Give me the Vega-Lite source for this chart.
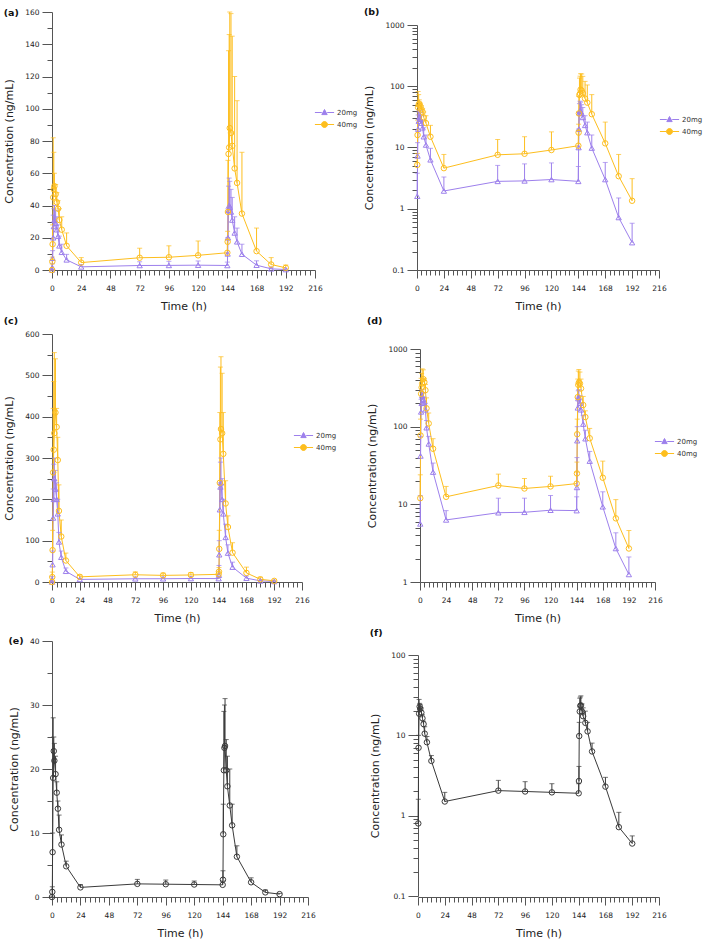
{
  "$schema": "https://vega.github.io/schema/vega-lite/v6.json",
  "padding": {"left": 3, "top": 6, "right": 0, "bottom": 0},
  "datasets": {
    "A": [
      {"g":"20mg","t":0,"c":0,"hi":0},{"g":"20mg","t":0.25,"c":1.6,"hi":3.8},{"g":"20mg","t":0.5,"c":7.3,"hi":12},{"g":"20mg","t":1,"c":20,"hi":34},{"g":"20mg","t":1.5,"c":27,"hi":38},{"g":"20mg","t":2,"c":31,"hi":40},{"g":"20mg","t":3,"c":29,"hi":37},{"g":"20mg","t":4,"c":25,"hi":33},{"g":"20mg","t":5,"c":21,"hi":28},{"g":"20mg","t":6,"c":15,"hi":21},{"g":"20mg","t":8,"c":11,"hi":16},{"g":"20mg","t":12,"c":6.3,"hi":9.7},{"g":"20mg","t":24,"c":1.95,"hi":3.3},{"g":"20mg","t":72,"c":2.8,"hi":5.1},{"g":"20mg","t":96,"c":2.85,"hi":5.4},{"g":"20mg","t":120,"c":3.0,"hi":5.6},{"g":"20mg","t":144,"c":2.8,"hi":4.9},{"g":"20mg","t":144.25,"c":10,"hi":20},{"g":"20mg","t":144.5,"c":20,"hi":38},{"g":"20mg","t":145,"c":37,"hi":52},{"g":"20mg","t":145.5,"c":40,"hi":57},{"g":"20mg","t":146,"c":39,"hi":55},{"g":"20mg","t":147,"c":36,"hi":50},{"g":"20mg","t":148,"c":31,"hi":45},{"g":"20mg","t":150,"c":23,"hi":33},{"g":"20mg","t":152,"c":17.5,"hi":26},{"g":"20mg","t":156,"c":9.8,"hi":16},{"g":"20mg","t":168,"c":3.0,"hi":5.7},{"g":"20mg","t":180,"c":0.72,"hi":1.5},{"g":"20mg","t":192,"c":0.28,"hi":0.58},
      {"g":"40mg","t":0,"c":0,"hi":0},{"g":"40mg","t":0.25,"c":5.2,"hi":8},{"g":"40mg","t":0.5,"c":16,"hi":28},{"g":"40mg","t":1,"c":45,"hi":82},{"g":"40mg","t":1.5,"c":50,"hi":73},{"g":"40mg","t":2,"c":52,"hi":60},{"g":"40mg","t":3,"c":47,"hi":53},{"g":"40mg","t":4,"c":42,"hi":48},{"g":"40mg","t":5,"c":38,"hi":43},{"g":"40mg","t":6,"c":31,"hi":38},{"g":"40mg","t":8,"c":25,"hi":33},{"g":"40mg","t":12,"c":15,"hi":23},{"g":"40mg","t":24,"c":4.6,"hi":7.7},{"g":"40mg","t":72,"c":7.6,"hi":13.5},{"g":"40mg","t":96,"c":7.9,"hi":15},{"g":"40mg","t":120,"c":9.1,"hi":18},{"g":"40mg","t":144,"c":10.7,"hi":19},{"g":"40mg","t":144.25,"c":17.5,"hi":24},{"g":"40mg","t":144.5,"c":36,"hi":68},{"g":"40mg","t":145,"c":72,"hi":136},{"g":"40mg","t":145.5,"c":76,"hi":146},{"g":"40mg","t":146,"c":88,"hi":160},{"g":"40mg","t":147,"c":85,"hi":159},{"g":"40mg","t":148,"c":77,"hi":145},{"g":"40mg","t":150,"c":63,"hi":120},{"g":"40mg","t":152,"c":54,"hi":105},{"g":"40mg","t":156,"c":35,"hi":73},{"g":"40mg","t":168,"c":11.7,"hi":26},{"g":"40mg","t":180,"c":3.4,"hi":7.7},{"g":"40mg","t":192,"c":1.35,"hi":3.1}
    ],
    "C": [
      {"g":"20mg","t":0,"c":0,"hi":0},{"g":"20mg","t":0.25,"c":5.6,"hi":13},{"g":"20mg","t":0.5,"c":42,"hi":75},{"g":"20mg","t":1,"c":155,"hi":225},{"g":"20mg","t":1.5,"c":200,"hi":285},{"g":"20mg","t":2,"c":250,"hi":300},{"g":"20mg","t":3,"c":225,"hi":270},{"g":"20mg","t":4,"c":200,"hi":240},{"g":"20mg","t":5,"c":165,"hi":200},{"g":"20mg","t":6,"c":97,"hi":120},{"g":"20mg","t":8,"c":60,"hi":75},{"g":"20mg","t":12,"c":26,"hi":34},{"g":"20mg","t":24,"c":6.3,"hi":8.3},{"g":"20mg","t":72,"c":7.8,"hi":12},{"g":"20mg","t":96,"c":7.9,"hi":12},{"g":"20mg","t":120,"c":8.4,"hi":13},{"g":"20mg","t":144,"c":8.3,"hi":12.5},{"g":"20mg","t":144.25,"c":16.5,"hi":40},{"g":"20mg","t":144.5,"c":66,"hi":100},{"g":"20mg","t":145,"c":175,"hi":240},{"g":"20mg","t":145.5,"c":230,"hi":290},{"g":"20mg","t":146,"c":240,"hi":300},{"g":"20mg","t":147,"c":200,"hi":250},{"g":"20mg","t":148,"c":165,"hi":200},{"g":"20mg","t":150,"c":108,"hi":140},{"g":"20mg","t":152,"c":70,"hi":90},{"g":"20mg","t":156,"c":36,"hi":48},{"g":"20mg","t":168,"c":9.3,"hi":14.5},{"g":"20mg","t":180,"c":2.7,"hi":4.3},{"g":"20mg","t":192,"c":1.25,"hi":2.1},
      {"g":"40mg","t":0,"c":0,"hi":0},{"g":"40mg","t":0.25,"c":12,"hi":24},{"g":"40mg","t":0.5,"c":77,"hi":125},{"g":"40mg","t":1,"c":265,"hi":420},{"g":"40mg","t":1.5,"c":320,"hi":485},{"g":"40mg","t":2,"c":360,"hi":555},{"g":"40mg","t":3,"c":410,"hi":540},{"g":"40mg","t":4,"c":375,"hi":420},{"g":"40mg","t":5,"c":295,"hi":350},{"g":"40mg","t":6,"c":172,"hi":235},{"g":"40mg","t":8,"c":110,"hi":150},{"g":"40mg","t":12,"c":52,"hi":70},{"g":"40mg","t":24,"c":12.5,"hi":17},{"g":"40mg","t":72,"c":17.5,"hi":24.5},{"g":"40mg","t":96,"c":16,"hi":21.5},{"g":"40mg","t":120,"c":17,"hi":23},{"g":"40mg","t":144,"c":18.5,"hi":26},{"g":"40mg","t":144.25,"c":25,"hi":35},{"g":"40mg","t":144.5,"c":80,"hi":125},{"g":"40mg","t":145,"c":240,"hi":410},{"g":"40mg","t":145.5,"c":345,"hi":520},{"g":"40mg","t":146,"c":370,"hi":545},{"g":"40mg","t":147,"c":360,"hi":505},{"g":"40mg","t":148,"c":310,"hi":410},{"g":"40mg","t":150,"c":190,"hi":245},{"g":"40mg","t":152,"c":133,"hi":160},{"g":"40mg","t":156,"c":71,"hi":95},{"g":"40mg","t":168,"c":22,"hi":36},{"g":"40mg","t":180,"c":6.6,"hi":11.5},{"g":"40mg","t":192,"c":2.7,"hi":4.6}
    ],
    "E": [
      {"t":0,"c":0,"hi":0},{"t":0.25,"c":0.8,"hi":1.6},{"t":0.5,"c":7.0,"hi":10},{"t":1,"c":18.6,"hi":28},{"t":1.5,"c":22.8,"hi":25},{"t":2,"c":21.3,"hi":24},{"t":3,"c":19.2,"hi":22},{"t":4,"c":16.3,"hi":18},{"t":5,"c":13.8,"hi":15},{"t":6,"c":10.5,"hi":12.8},{"t":8,"c":8.2,"hi":9.7},{"t":12,"c":4.8,"hi":5.6},{"t":24,"c":1.5,"hi":1.95},{"t":72,"c":2.05,"hi":2.75},{"t":96,"c":2.0,"hi":2.65},{"t":120,"c":1.95,"hi":2.5},{"t":144,"c":1.9,"hi":2.5},{"t":144.25,"c":2.7,"hi":4.1},{"t":144.5,"c":9.8,"hi":14.5},{"t":145,"c":19.8,"hi":29},{"t":145.5,"c":23.3,"hi":30},{"t":146,"c":23.6,"hi":31},{"t":147,"c":19.8,"hi":24.6},{"t":148,"c":17.3,"hi":22},{"t":150,"c":14.3,"hi":20},{"t":152,"c":11.2,"hi":14.5},{"t":156,"c":6.3,"hi":8},{"t":168,"c":2.3,"hi":3.0},{"t":180,"c":0.72,"hi":1.1},{"t":192,"c":0.45,"hi":0.56}
    ]
  },
  "vconcat": [
    {
      "hconcat": [
        {
          "width": 263, "height": 258,
          "title": {"text": "(a)", "offset": -9},
          "data": {"name": "A"},
          "encoding": {
            "x": {"field": "t", "type": "quantitative", "title": "Time (h)", "scale": {"domain": [0, 216], "nice": false, "zero": false},
              "axis": {"values": [0,4,8,12,16,20,24,28,32,36,40,44,48,52,56,60,64,68,72,76,80,84,88,92,96,100,104,108,112,116,120,124,128,132,136,140,144,148,152,156,160,164,168,172,176,180,184,188,192,196,200,204,208,212,216], "labelExpr": "datum.value % 24 === 0 ? datum.label : ''", "tickSize": {"condition": {"test": "datum.value % 24 === 0", "value": 8}, "value": 5}}},
            "y": {"field": "c", "type": "quantitative", "title": "Concentration (ng/mL)", "scale": {"domain": [0, 160], "nice": false},
              "axis": {"values": [0,10,20,30,40,50,60,70,80,90,100,110,120,130,140,150,160], "labelExpr": "datum.value % 20 === 0 ? datum.label : ''", "tickSize": {"condition": {"test": "datum.value % 20 === 0", "value": 10}, "value": 5}}}
          },
          "layer": [
            {"mark": {"type": "line", "strokeWidth": 1}, "encoding": {"color": {"field": "g", "type": "nominal", "scale": {"domain": ["20mg", "40mg"], "range": ["#9D80EC", "#FDBE1E"]},
              "legend": {"title": null, "orient": "none", "legendX": 266, "legendY": 94, "symbolSize": 144, "labelOffset": 6, "rowPadding": 1, "symbolStrokeWidth": 1, "encoding": {"symbols": {"shape": {"value": {"expr": "datum.value === '20mg' ? 'M-1.6,0L-0.45,0M0.45,0L1.6,0M0,-0.5L0.45,0.35L-0.45,0.35Z' : 'M-1.6,0L-0.5,0M0.5,0L1.6,0M0.5,0A0.5,0.5 0 1 1 -0.5,0A0.5,0.5 0 1 1 0.5,0Z'"}}, "fill": {"value": "transparent"}, "strokeWidth": {"value": 1}, "opacity": {"value": 1}}}}}}},
            {"mark": {"type": "rule", "strokeWidth": 1}, "encoding": {"y2": {"field": "hi"}, "color": {"field": "g", "type": "nominal", "legend": null}}},
            {"mark": {"type": "tick", "orient": "horizontal", "size": 5, "thickness": 1}, "encoding": {"y": {"field": "hi", "type": "quantitative", "title": "Concentration (ng/mL)", "scale": {"domain": [0, 160], "nice": false}}, "color": {"field": "g", "type": "nominal", "legend": null}}},
            {"transform": [{"filter": "datum.g === '20mg'"}], "mark": {"type": "point", "shape": "triangle-up", "filled": false, "size": 28, "strokeWidth": 1, "opacity": 1}, "encoding": {"color": {"field": "g", "type": "nominal", "legend": null}}},
            {"transform": [{"filter": "datum.g === '40mg'"}], "mark": {"type": "point", "shape": "circle", "filled": false, "size": 30, "strokeWidth": 1, "opacity": 1}, "encoding": {"color": {"field": "g", "type": "nominal", "legend": null}}}
          ]
        },
        {
          "width": 242, "height": 258,
          "title": {"text": "(b)", "offset": -4},
          "data": {"name": "A"},
          "transform": [{"filter": "datum.c > 0"}],
          "encoding": {
            "x": {"field": "t", "type": "quantitative", "title": "Time (h)", "scale": {"domain": [0, 216], "nice": false, "zero": false},
              "axis": {"values": [0,4,8,12,16,20,24,28,32,36,40,44,48,52,56,60,64,68,72,76,80,84,88,92,96,100,104,108,112,116,120,124,128,132,136,140,144,148,152,156,160,164,168,172,176,180,184,188,192,196,200,204,208,212,216], "labelExpr": "datum.value % 24 === 0 ? datum.label : ''", "tickSize": {"condition": {"test": "datum.value % 24 === 0", "value": 8}, "value": 5}}},
            "y": {"field": "c", "type": "quantitative", "title": "Concentration (ng/mL)", "scale": {"type": "log", "domain": [0.1, 1000], "nice": false, "range": [258, 13]},
              "axis": {"values": [0.1,0.2,0.3,0.4,0.5,0.6,0.7,0.8,0.9,1,2,3,4,5,6,7,8,9,10,20,30,40,50,60,70,80,90,100,200,300,400,500,600,700,800,900,1000], "labelExpr": "indexof([0.1,1,10,100,1000], datum.value) >= 0 ? format(datum.value, '~g') : ''", "tickSize": {"condition": {"test": "indexof([0.1,1,10,100,1000], datum.value) >= 0", "value": 10}, "value": 5}}}
          },
          "layer": [
            {"mark": {"type": "line", "strokeWidth": 1}, "encoding": {"color": {"field": "g", "type": "nominal", "scale": {"domain": ["20mg", "40mg"], "range": ["#9D80EC", "#FDBE1E"]},
              "legend": {"title": null, "orient": "none", "legendX": 246, "legendY": 101, "symbolSize": 144, "labelOffset": 6, "rowPadding": 1, "symbolStrokeWidth": 1, "encoding": {"symbols": {"shape": {"value": {"expr": "datum.value === '20mg' ? 'M-1.6,0L-0.45,0M0.45,0L1.6,0M0,-0.5L0.45,0.35L-0.45,0.35Z' : 'M-1.6,0L-0.5,0M0.5,0L1.6,0M0.5,0A0.5,0.5 0 1 1 -0.5,0A0.5,0.5 0 1 1 0.5,0Z'"}}, "fill": {"value": "transparent"}, "strokeWidth": {"value": 1}, "opacity": {"value": 1}}}}}}},
            {"mark": {"type": "rule", "strokeWidth": 1}, "encoding": {"y2": {"field": "hi"}, "color": {"field": "g", "type": "nominal", "legend": null}}},
            {"mark": {"type": "tick", "orient": "horizontal", "size": 5, "thickness": 1}, "encoding": {"y": {"field": "hi", "type": "quantitative", "title": "Concentration (ng/mL)", "scale": {"type": "log", "domain": [0.1, 1000], "nice": false, "range": [258, 13]}}, "color": {"field": "g", "type": "nominal", "legend": null}}},
            {"transform": [{"filter": "datum.g === '20mg'"}], "mark": {"type": "point", "shape": "triangle-up", "filled": false, "size": 28, "strokeWidth": 1, "opacity": 1}, "encoding": {"color": {"field": "g", "type": "nominal", "legend": null}}},
            {"transform": [{"filter": "datum.g === '40mg'"}], "mark": {"type": "point", "shape": "circle", "filled": false, "size": 30, "strokeWidth": 1, "opacity": 1}, "encoding": {"color": {"field": "g", "type": "nominal", "legend": null}}}
          ]
        }
      ],
      "spacing": 5,
      "resolve": {"scale": {"color": "independent"}, "legend": {"color": "independent"}}
    },
    {
      "hconcat": [
        {
          "width": 250, "height": 248,
          "title": {"text": "(c)", "offset": 5},
          "data": {"name": "C"},
          "encoding": {
            "x": {"field": "t", "type": "quantitative", "title": "Time (h)", "scale": {"domain": [0, 216], "nice": false, "zero": false},
              "axis": {"values": [0,4,8,12,16,20,24,28,32,36,40,44,48,52,56,60,64,68,72,76,80,84,88,92,96,100,104,108,112,116,120,124,128,132,136,140,144,148,152,156,160,164,168,172,176,180,184,188,192,196,200,204,208,212,216], "labelExpr": "datum.value % 24 === 0 ? datum.label : ''", "tickSize": {"condition": {"test": "datum.value % 24 === 0", "value": 8}, "value": 5}}},
            "y": {"field": "c", "type": "quantitative", "title": "Concentration (ng/mL)", "scale": {"domain": [0, 600], "nice": false},
              "axis": {"values": [0,50,100,150,200,250,300,350,400,450,500,550,600], "labelExpr": "datum.value % 100 === 0 ? datum.label : ''", "tickSize": {"condition": {"test": "datum.value % 100 === 0", "value": 10}, "value": 5}}}
          },
          "layer": [
            {"mark": {"type": "line", "strokeWidth": 1}, "encoding": {"color": {"field": "g", "type": "nominal", "scale": {"domain": ["20mg", "40mg"], "range": ["#9D80EC", "#FDBE1E"]},
              "legend": {"title": null, "orient": "none", "legendX": 245, "legendY": 95, "symbolSize": 144, "labelOffset": 6, "rowPadding": 1, "symbolStrokeWidth": 1, "encoding": {"symbols": {"shape": {"value": {"expr": "datum.value === '20mg' ? 'M-1.6,0L-0.45,0M0.45,0L1.6,0M0,-0.5L0.45,0.35L-0.45,0.35Z' : 'M-1.6,0L-0.5,0M0.5,0L1.6,0M0.5,0A0.5,0.5 0 1 1 -0.5,0A0.5,0.5 0 1 1 0.5,0Z'"}}, "fill": {"value": "transparent"}, "strokeWidth": {"value": 1}, "opacity": {"value": 1}}}}}}},
            {"mark": {"type": "rule", "strokeWidth": 1}, "encoding": {"y2": {"field": "hi"}, "color": {"field": "g", "type": "nominal", "legend": null}}},
            {"mark": {"type": "tick", "orient": "horizontal", "size": 5, "thickness": 1}, "encoding": {"y": {"field": "hi", "type": "quantitative", "title": "Concentration (ng/mL)", "scale": {"domain": [0, 600], "nice": false}}, "color": {"field": "g", "type": "nominal", "legend": null}}},
            {"transform": [{"filter": "datum.g === '20mg'"}], "mark": {"type": "point", "shape": "triangle-up", "filled": false, "size": 28, "strokeWidth": 1, "opacity": 1}, "encoding": {"color": {"field": "g", "type": "nominal", "legend": null}}},
            {"transform": [{"filter": "datum.g === '40mg'"}], "mark": {"type": "point", "shape": "circle", "filled": false, "size": 30, "strokeWidth": 1, "opacity": 1}, "encoding": {"color": {"field": "g", "type": "nominal", "legend": null}}}
          ]
        },
        {
          "width": 235, "height": 248,
          "title": {"text": "(d)", "offset": 9},
          "data": {"name": "C"},
          "transform": [{"filter": "datum.c > 0"}],
          "encoding": {
            "x": {"field": "t", "type": "quantitative", "title": "Time (h)", "scale": {"domain": [0, 216], "nice": false, "zero": false},
              "axis": {"values": [0,4,8,12,16,20,24,28,32,36,40,44,48,52,56,60,64,68,72,76,80,84,88,92,96,100,104,108,112,116,120,124,128,132,136,140,144,148,152,156,160,164,168,172,176,180,184,188,192,196,200,204,208,212,216], "labelExpr": "datum.value % 24 === 0 ? datum.label : ''", "tickSize": {"condition": {"test": "datum.value % 24 === 0", "value": 8}, "value": 5}}},
            "y": {"field": "c", "type": "quantitative", "title": "Concentration (ng/mL)", "scale": {"type": "log", "domain": [1, 1000], "nice": false, "range": [248, 15]},
              "axis": {"values": [1,2,3,4,5,6,7,8,9,10,20,30,40,50,60,70,80,90,100,200,300,400,500,600,700,800,900,1000], "labelExpr": "indexof([1,10,100,1000], datum.value) >= 0 ? format(datum.value, '~g') : ''", "tickSize": {"condition": {"test": "indexof([1,10,100,1000], datum.value) >= 0", "value": 10}, "value": 5}}}
          },
          "layer": [
            {"mark": {"type": "line", "strokeWidth": 1}, "encoding": {"color": {"field": "g", "type": "nominal", "scale": {"domain": ["20mg", "40mg"], "range": ["#9D80EC", "#FDBE1E"]},
              "legend": {"title": null, "orient": "none", "legendX": 238, "legendY": 101, "symbolSize": 144, "labelOffset": 6, "rowPadding": 1, "symbolStrokeWidth": 1, "encoding": {"symbols": {"shape": {"value": {"expr": "datum.value === '20mg' ? 'M-1.6,0L-0.45,0M0.45,0L1.6,0M0,-0.5L0.45,0.35L-0.45,0.35Z' : 'M-1.6,0L-0.5,0M0.5,0L1.6,0M0.5,0A0.5,0.5 0 1 1 -0.5,0A0.5,0.5 0 1 1 0.5,0Z'"}}, "fill": {"value": "transparent"}, "strokeWidth": {"value": 1}, "opacity": {"value": 1}}}}}}},
            {"mark": {"type": "rule", "strokeWidth": 1}, "encoding": {"y2": {"field": "hi"}, "color": {"field": "g", "type": "nominal", "legend": null}}},
            {"mark": {"type": "tick", "orient": "horizontal", "size": 5, "thickness": 1}, "encoding": {"y": {"field": "hi", "type": "quantitative", "title": "Concentration (ng/mL)", "scale": {"type": "log", "domain": [1, 1000], "nice": false, "range": [248, 15]}}, "color": {"field": "g", "type": "nominal", "legend": null}}},
            {"transform": [{"filter": "datum.g === '20mg'"}], "mark": {"type": "point", "shape": "triangle-up", "filled": false, "size": 28, "strokeWidth": 1, "opacity": 1}, "encoding": {"color": {"field": "g", "type": "nominal", "legend": null}}},
            {"transform": [{"filter": "datum.g === '40mg'"}], "mark": {"type": "point", "shape": "circle", "filled": false, "size": 30, "strokeWidth": 1, "opacity": 1}, "encoding": {"color": {"field": "g", "type": "nominal", "legend": null}}}
          ]
        }
      ],
      "spacing": 29,
      "resolve": {"scale": {"color": "independent"}, "legend": {"color": "independent"}}
    },
    {
      "hconcat": [
        {
          "width": 256, "height": 256,
          "title": {"text": "(e)", "offset": -8},
          "data": {"name": "E"},
          "encoding": {
            "x": {"field": "t", "type": "quantitative", "title": "Time (h)", "scale": {"domain": [0, 216], "nice": false, "zero": false},
              "axis": {"values": [0,4,8,12,16,20,24,28,32,36,40,44,48,52,56,60,64,68,72,76,80,84,88,92,96,100,104,108,112,116,120,124,128,132,136,140,144,148,152,156,160,164,168,172,176,180,184,188,192,196,200,204,208,212,216], "labelExpr": "datum.value % 24 === 0 ? datum.label : ''", "tickSize": {"condition": {"test": "datum.value % 24 === 0", "value": 8}, "value": 5}}},
            "y": {"field": "c", "type": "quantitative", "title": "Concentration (ng/mL)", "scale": {"domain": [0, 40], "nice": false},
              "axis": {"values": [0,5,10,15,20,25,30,35,40], "labelExpr": "datum.value % 10 === 0 ? datum.label : ''", "tickSize": {"condition": {"test": "datum.value % 10 === 0", "value": 10}, "value": 5}}}
          },
          "layer": [
            {"mark": {"type": "line", "strokeWidth": 1, "color": "#3a3a3a"}},
            {"mark": {"type": "rule", "strokeWidth": 1, "color": "#3a3a3a"}, "encoding": {"y2": {"field": "hi"}}},
            {"mark": {"type": "tick", "orient": "horizontal", "size": 5, "thickness": 1, "color": "#3a3a3a"}, "encoding": {"y": {"field": "hi", "type": "quantitative", "title": "Concentration (ng/mL)", "scale": {"domain": [0, 40], "nice": false}}}},
            {"mark": {"type": "point", "filled": false, "size": 30, "strokeWidth": 1, "opacity": 1, "color": "#3a3a3a", "shape": "circle"}}
          ]
        },
        {
          "width": 241, "height": 256,
          "title": {"text": "(f)", "offset": 4},
          "data": {"name": "E"},
          "transform": [{"filter": "datum.c > 0"}],
          "encoding": {
            "x": {"field": "t", "type": "quantitative", "title": "Time (h)", "scale": {"domain": [0, 216], "nice": false, "zero": false},
              "axis": {"values": [0,4,8,12,16,20,24,28,32,36,40,44,48,52,56,60,64,68,72,76,80,84,88,92,96,100,104,108,112,116,120,124,128,132,136,140,144,148,152,156,160,164,168,172,176,180,184,188,192,196,200,204,208,212,216], "labelExpr": "datum.value % 24 === 0 ? datum.label : ''", "tickSize": {"condition": {"test": "datum.value % 24 === 0", "value": 8}, "value": 5}}},
            "y": {"field": "c", "type": "quantitative", "title": "Concentration (ng/mL)", "scale": {"type": "log", "domain": [0.1, 100], "nice": false, "range": [255, 14]},
              "axis": {"values": [0.1,0.2,0.3,0.4,0.5,0.6,0.7,0.8,0.9,1,2,3,4,5,6,7,8,9,10,20,30,40,50,60,70,80,90,100], "labelExpr": "indexof([0.1,1,10,100], datum.value) >= 0 ? format(datum.value, '~g') : ''", "tickSize": {"condition": {"test": "indexof([0.1,1,10,100], datum.value) >= 0", "value": 10}, "value": 5}}}
          },
          "layer": [
            {"mark": {"type": "line", "strokeWidth": 1, "color": "#3a3a3a"}},
            {"mark": {"type": "rule", "strokeWidth": 1, "color": "#3a3a3a"}, "encoding": {"y2": {"field": "hi"}}},
            {"mark": {"type": "tick", "orient": "horizontal", "size": 5, "thickness": 1, "color": "#3a3a3a"}, "encoding": {"y": {"field": "hi", "type": "quantitative", "title": "Concentration (ng/mL)", "scale": {"type": "log", "domain": [0.1, 100], "nice": false, "range": [255, 14]}}}},
            {"mark": {"type": "point", "filled": false, "size": 30, "strokeWidth": 1, "opacity": 1, "color": "#3a3a3a", "shape": "circle"}}
          ]
        }
      ],
      "spacing": 53
    }
  ],
  "spacing": 3,
  "resolve": {"scale": {"color": "independent"}, "legend": {"color": "independent"}},
  "config": {
    "view": {"stroke": null},
    "font": "DejaVu Sans",
    "axis": {"grid": false, "domainColor": "#555", "tickColor": "#555", "labelFont": "DejaVu Sans", "labelFontSize": 7.5, "labelColor": "#222", "titleFont": "DejaVu Sans", "titleFontSize": 11, "titleFontWeight": "normal", "titleColor": "#222", "labelOverlap": false, "labelFlush": false, "labelPadding": 3},
    "axisX": {"titlePadding": 9, "labelPadding": 6},
    "axisY": {"titlePadding": 10},
    "title": {"anchor": "start", "frame": "bounds", "font": "DejaVu Sans", "fontSize": 9.5, "fontWeight": "bold", "color": "#111"},
    "legend": {"labelFont": "DejaVu Sans", "labelFontSize": 7, "labelColor": "#333"}
  }
}
